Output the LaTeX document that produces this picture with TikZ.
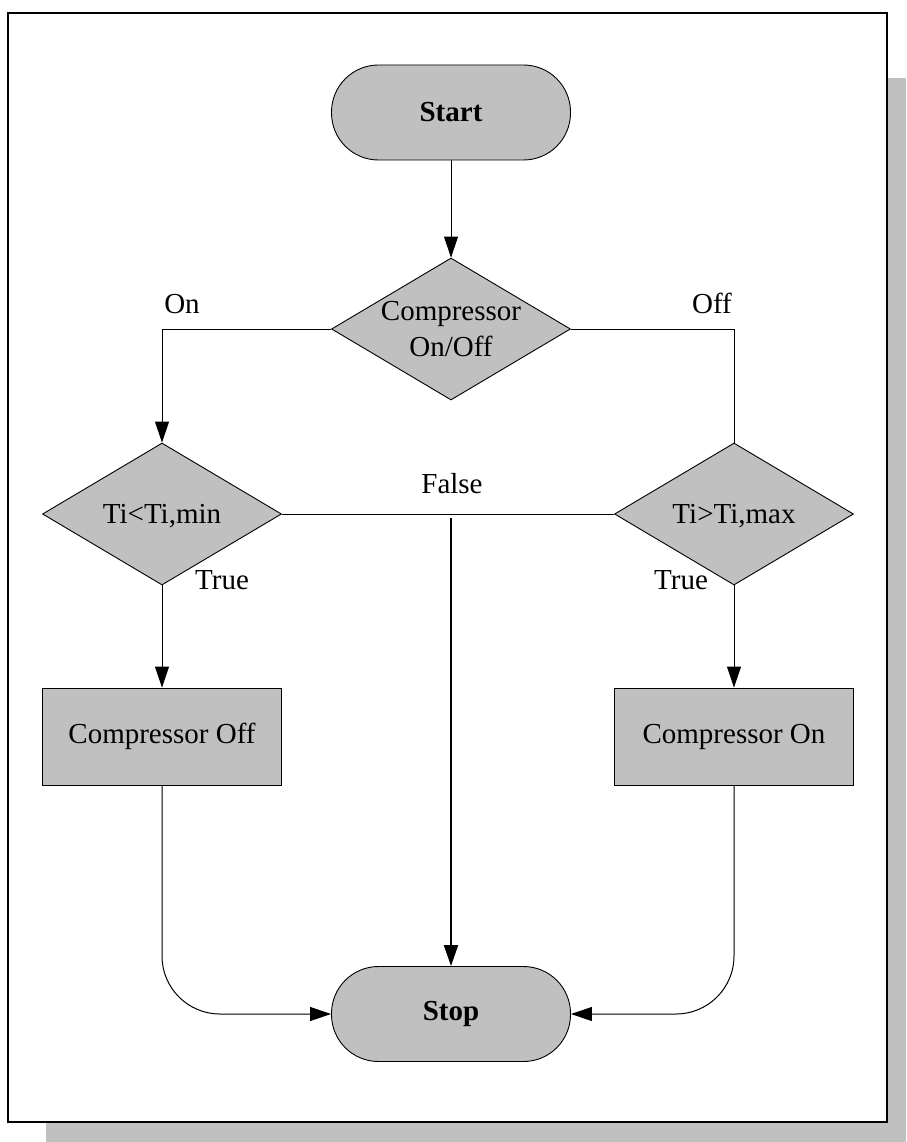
\documentclass[tikz,border=0pt]{standalone}
\usepackage{fontspec}
\setmainfont{Liberation Serif}
\usetikzlibrary{shapes.geometric,arrows.meta}
\definecolor{shapegray}{HTML}{C0C0C0}
\newcommand{\zbox}[1]{\makebox[0pt]{\raisebox{-0.28em}[0pt][0pt]{\begin{tabular}{@{}c@{}}#1\end{tabular}}}}
\begin{document}
\begin{tikzpicture}[x=1pt,y=-1pt,
  txt/.style={font=\fontsize{29}{36}\selectfont},
  shapefill/.style={fill=shapegray, draw=black, line width=0.9pt},
  term/.style={shapefill, rectangle, rounded corners=47pt, minimum width=239pt, minimum height=95pt, inner sep=0pt, font=\bfseries\fontsize{29}{36}\selectfont},
  dec/.style={shapefill, diamond, minimum width=239pt, minimum height=142pt, inner sep=0pt, txt},
  proc/.style={shapefill, rectangle, minimum width=239pt, minimum height=97pt, inner sep=0pt, txt},
  conn/.style={draw=black, line width=1pt},
  arr/.style={conn, -{Triangle[length=21pt,width=14pt]}},
  lbl/.style={txt, anchor=base, inner sep=0pt}
]
\useasboundingbox (0,0) rectangle (906,1142);
\fill[shapegray] (46,78) rectangle (906,1142);
\draw[line width=2pt, fill=white] (8,13) rectangle (887,1122);

\node[term] (start) at (451,112.5) {Start};
\node[dec] (d1) at (451,329) {\zbox{Compressor\\On/Off}};
\node[dec] (d2) at (162,514) {\zbox{Ti<Ti,min}};
\node[dec] (d3) at (734,514) {\zbox{Ti>Ti,max}};
\node[proc] (off) at (162,736.5) {Compressor Off};
\node[proc] (on) at (734,736.5) {Compressor On};
\node[term] (stop) at (451,1014) {Stop};

\draw[arr] (start) -- (d1);
\draw[arr] (d1.west) -| (d2.north);
\draw[conn] (d1.east) -| (d3.north);
\draw[conn] (d2.east) -- (d3.west);
\coordinate (fs) at (451,518);
\draw[arr, line width=2pt] (fs) -- (stop.north);
\draw[arr] (d2.south) -- (off.north);
\draw[arr] (d3.south) -- (on.north);
\draw[arr, rounded corners=58pt] (off.south) |- (stop.west);
\draw[arr, rounded corners=58pt] (on.south) |- (stop.east);

\node[lbl] (lon) at (182,313) {On};
\node[lbl] (loff) at (712,313) {Off};
\node[lbl] (lfalse) at (452,493) {False};
\node[lbl] (ltrue1) at (222,589) {True};
\node[lbl] (ltrue2) at (681,589) {True};
\end{tikzpicture}
\end{document}
